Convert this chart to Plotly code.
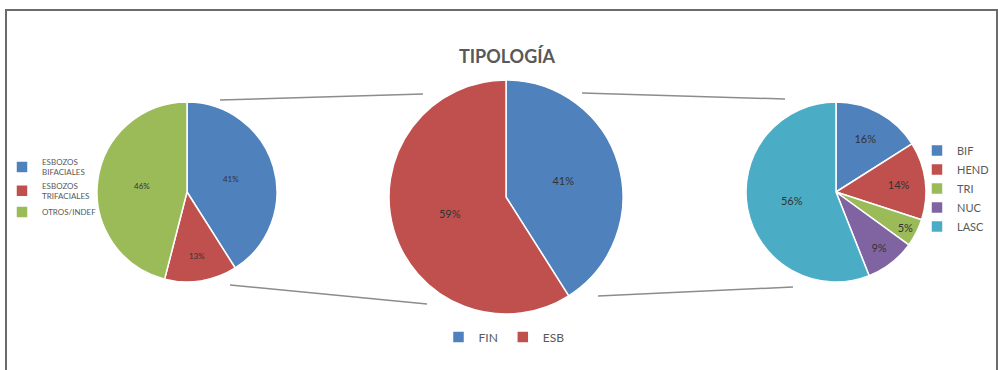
import plotly.graph_objects as go

W, H = 998, 370

# Left pie: sketch types
left_labels = ["ESBOZOS<br>BIFACIALES", "ESBOZOS<br>TRIFACIALES", "OTROS/INDEF"]
left_values = [41, 13, 46]
left_colors = ["#4F81BD", "#C0504D", "#9BBB59"]

# Middle pie: finished pieces vs sketches
mid_labels = ["FIN", "ESB"]
mid_values = [41, 59]
mid_colors = ["#4F81BD", "#C0504D"]

# Right pie: typology of finished pieces
right_labels = ["BIF", "HEND", "TRI", "NUC", "LASC"]
right_values = [16, 14, 5, 9, 56]
right_colors = ["#4F81BD", "#C0504D", "#9BBB59", "#8064A2", "#4BACC6"]


def px_x(x):
    return x / W


def px_y(y):
    return 1 - y / H


def domain(cx, cy, r):
    return dict(x=[px_x(cx - r), px_x(cx + r)], y=[px_y(cy + r), px_y(cy - r)])


def pie(labels, values, colors, dom, legend, size):
    return go.Pie(
        labels=labels, values=values, sort=False, direction="clockwise",
        rotation=0, domain=dom, legend=legend,
        marker=dict(colors=colors, line=dict(color="white", width=1.5)),
        texttemplate="%{value}%", textposition="inside",
        insidetextorientation="horizontal",
        textfont=dict(size=size, color="#333333", family="Lato"),
        hoverinfo="label+value",
    )


fig = go.Figure()
fig.add_trace(pie(left_labels, left_values, left_colors, domain(187, 192, 90), "legend2", 8))
fig.add_trace(pie(mid_labels, mid_values, mid_colors, domain(506, 197, 117), "legend", 11))
fig.add_trace(pie(right_labels, right_values, right_colors, domain(836, 192, 90), "legend3", 11))

# connector lines between the pies
connectors = [
    (220, 100, 423, 94),
    (230, 285, 427, 304),
    (582, 93, 785, 99),
    (598, 296, 793, 287),
]
shapes = [
    dict(type="line", xref="paper", yref="paper",
         x0=px_x(a), y0=px_y(b), x1=px_x(c), y1=px_y(d),
         line=dict(color="#8c8c8c", width=1.5))
    for a, b, c, d in connectors
]
# outer frame
shapes.append(dict(type="rect", xref="paper", yref="paper",
                   x0=px_x(6), y0=px_y(380), x1=px_x(997), y1=px_y(10),
                   line=dict(color="#6b6b6b", width=2), layer="above"))

fig.update_layout(
    width=W, height=H,
    margin=dict(l=0, r=0, t=0, b=0, autoexpand=False),
    paper_bgcolor="white", plot_bgcolor="white",
    font=dict(family="Lato", color="#595959"),
    title=dict(text="<b>TIPOLOGÍA</b>", x=px_x(507), xanchor="center",
               y=px_y(57), yanchor="middle",
               font=dict(size=18, color="#595959", family="Lato")),
    shapes=shapes,
    legend=dict(orientation="h", x=px_x(504), xanchor="center",
                y=px_y(337), yanchor="middle",
                font=dict(size=12, color="#595959"), bgcolor="rgba(0,0,0,0)"),
    legend2=dict(x=px_x(2), xanchor="left", y=px_y(150), yanchor="top",
                 font=dict(size=8, color="#595959"), bgcolor="rgba(0,0,0,0)"),
    legend3=dict(x=px_x(917), xanchor="left", y=px_y(136), yanchor="top",
                 font=dict(size=11, color="#595959"), bgcolor="rgba(0,0,0,0)"),
    showlegend=True,
)

fig.write_html("out.html")
